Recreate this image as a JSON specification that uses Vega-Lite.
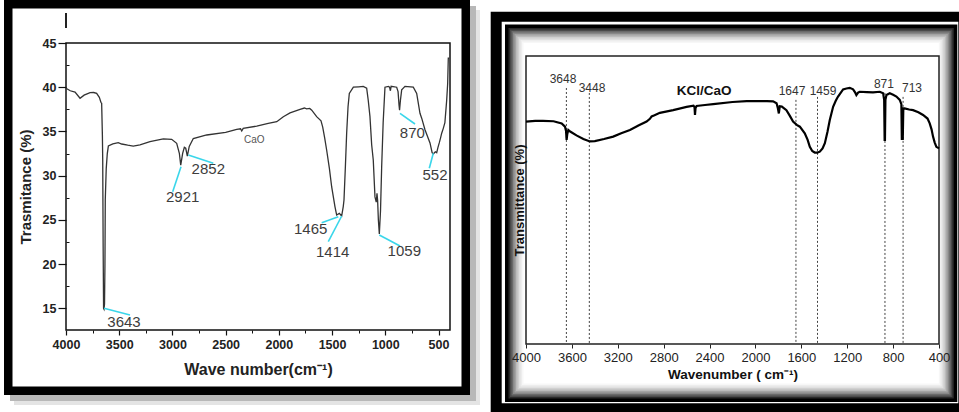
{
 "$schema": "https://vega.github.io/schema/vega-lite/v6.json",
 "background": "white",
 "padding": {"left": 4, "top": 0, "right": 0, "bottom": 0},
 "bounds": "flush",
 "spacing": 76,
 "config": {"view": {"stroke": null}, "font": "Liberation Sans", "axis": {"grid": false}},
 "hconcat": [
  {
   "width": 384, "height": 287,
   "resolve": {"axis": {"x": "independent", "y": "independent"}},
   "layer": [
    {"data": {"values": [{}]}, "mark": {"type": "rect", "color": "#e4e4e4"},
     "encoding": {"x": {"datum": 4488.6, "axis": null}, "x2": {"datum": 110.1}, "y": {"datum": 48.73, "axis": null}, "y2": {"datum": 4.07}}},
    {"data": {"values": [{}]}, "mark": {"type": "rect", "color": "#b8b8b8"},
     "encoding": {"x": {"datum": 4526.2, "axis": null}, "x2": {"datum": 147.7}, "y": {"datum": 49.18, "axis": null}, "y2": {"datum": 4.52}}},
    {"data": {"values": [{}]}, "mark": {"type": "rect", "color": "#000000"},
     "encoding": {"x": {"datum": 4582.5, "axis": null}, "x2": {"datum": 204.1}, "y": {"datum": 49.86, "axis": null}, "y2": {"datum": 5.2}}},
    {"data": {"values": [{}]}, "mark": {"type": "rect", "color": "#ffffff"},
     "encoding": {"x": {"datum": 4502.7, "axis": null}, "x2": {"datum": 284.0}, "y": {"datum": 48.9, "axis": null}, "y2": {"datum": 6.16}}},
    {"data": {"values": [{}]}, "mark": {"type": "rect", "filled": false, "color": "#111111", "strokeWidth": 1.5},
     "encoding": {"x": {"datum": 4000, "axis": null}, "x2": {"datum": 392}, "y": {"datum": 12.55, "axis": null}, "y2": {"datum": 45}}},
    {"data": {"values": [{}]}, "mark": {"type": "rule", "color": "#222222", "strokeWidth": 2},
     "encoding": {"x": {"datum": 4000, "axis": null}, "y": {"datum": 46.7, "axis": null}, "y2": {"datum": 48.39}}},
    {"data": {"values": [
      {"w":4000,"t":39.88},{"w":3960,"t":39.6},{"w":3915,"t":39.45},{"w":3868,"t":38.75},{"w":3830,"t":39.1},{"w":3774,"t":39.38},{"w":3740,"t":39.4},{"w":3712,"t":39.3},{"w":3687,"t":38.86},{"w":3672,"t":38.3},{"w":3665,"t":38.18},{"w":3658,"t":34.5},{"w":3655,"t":31.77},{"w":3651,"t":22},{"w":3647,"t":15.0},{"w":3643,"t":14.9},{"w":3638,"t":15.5},{"w":3634,"t":20},{"w":3631,"t":27.25},{"w":3622,"t":30.8},{"w":3612,"t":32.5},{"w":3602,"t":33.35},{"w":3560,"t":33.6},{"w":3509,"t":33.73},{"w":3477,"t":33.58},{"w":3420,"t":33.45},{"w":3368,"t":33.35},{"w":3305,"t":33.47},{"w":3211,"t":33.84},{"w":3086,"t":34.15},{"w":3007,"t":34.11},{"w":2960,"t":33.66},{"w":2935,"t":32.53},{"w":2922,"t":31.2},{"w":2904,"t":32.53},{"w":2888,"t":33.2},{"w":2875,"t":33.1},{"w":2860,"t":32.2},{"w":2842,"t":33.3},{"w":2804,"t":34.2},{"w":2678,"t":34.6},{"w":2500,"t":34.9},{"w":2396,"t":35.24},{"w":2360,"t":35.3},{"w":2349,"t":35.05},{"w":2335,"t":35.35},{"w":2208,"t":35.6},{"w":2100,"t":35.9},{"w":2020,"t":36.1},{"w":1958,"t":36.67},{"w":1895,"t":37.1},{"w":1801,"t":37.5},{"w":1760,"t":37.65},{"w":1739,"t":37.55},{"w":1710,"t":37.6},{"w":1691,"t":37.4},{"w":1645,"t":36.67},{"w":1604,"t":36.2},{"w":1588,"t":35.5},{"w":1570,"t":34.3},{"w":1551,"t":32.9},{"w":1525,"t":30.8},{"w":1504,"t":28.75},{"w":1473,"t":26.5},{"w":1457,"t":25.55},{"w":1432,"t":25.74},{"w":1410,"t":25.44},{"w":1395,"t":26.5},{"w":1388,"t":27.25},{"w":1375,"t":31},{"w":1363,"t":34.8},{"w":1350,"t":37.8},{"w":1338,"t":39.3},{"w":1300,"t":40.0},{"w":1250,"t":40.05},{"w":1207,"t":40.1},{"w":1175,"t":39.9},{"w":1160,"t":38.5},{"w":1144,"t":36.67},{"w":1128,"t":33.5},{"w":1113,"t":31.77},{"w":1097,"t":27.6},{"w":1085,"t":27.0},{"w":1078,"t":28.0},{"w":1072,"t":27.2},{"w":1065,"t":25},{"w":1056,"t":23.4},{"w":1045,"t":26},{"w":1034,"t":31.0},{"w":1020,"t":36},{"w":1003,"t":40.0},{"w":971,"t":40.1},{"w":960,"t":40.0},{"w":952,"t":39.6},{"w":945,"t":40.1},{"w":893,"t":40.0},{"w":880,"t":39.5},{"w":871,"t":38.0},{"w":866,"t":37.4},{"w":858,"t":38.5},{"w":846,"t":39.7},{"w":815,"t":40.1},{"w":737,"t":40.0},{"w":705,"t":39.3},{"w":674,"t":37.05},{"w":658,"t":36.5},{"w":627,"t":35.2},{"w":580,"t":33.7},{"w":560,"t":32.6},{"w":549,"t":32.45},{"w":530,"t":32.7},{"w":517,"t":32.6},{"w":505,"t":33.2},{"w":493,"t":33.7},{"w":480,"t":34.3},{"w":470,"t":34.8},{"w":455,"t":35.35},{"w":440,"t":36.0},{"w":430,"t":37.5},{"w":423,"t":38.55},{"w":414,"t":40.4},{"w":408,"t":43.3},{"w":400,"t":43.3}
     ]},
     "mark": {"type": "line", "color": "#333333", "strokeWidth": 1.3},
     "encoding": {
      "x": {"field": "w", "type": "quantitative", "scale": {"domain": [392, 4000], "reverse": true, "nice": false, "zero": false},
            "axis": {"zindex": 2, "values": [4000,3500,3000,2500,2000,1500,1000,500], "format": "d", "domain": false, "labelFont": "Liberation Sans", "labelFontWeight": "bold", "labelFontSize": 12.5, "labelColor": "#222222", "tickSize": 5, "tickColor": "#111111", "tickWidth": 1.2, "labelPadding": 3, "labelFlush": false, "labelOverlap": false, "title": "Wave number(cm⁻¹)", "titleFontSize": 16, "titleFontWeight": "bold", "titleColor": "#222222", "titlePadding": 11}},
      "y": {"field": "t", "type": "quantitative", "scale": {"domain": [12.55, 45], "nice": false, "zero": false},
            "axis": {"zindex": 2, "values": [15,20,25,30,35,40,45], "format": "d", "domain": false, "labelFont": "Liberation Sans", "labelFontWeight": "bold", "labelFontSize": 12.5, "labelColor": "#222222", "tickSize": 8, "tickColor": "#111111", "tickWidth": 1.2, "labelPadding": 2, "labelFlush": false, "labelOverlap": false, "title": "Trasmitance (%)", "titleFontSize": 15, "titleFontWeight": "bold", "titleColor": "#222222", "titlePadding": 9}}
     }},
    {"data": {"values": [
      {"w":3643,"t":15.0,"w2":3398.7,"t2":14.24},
      {"w":2919.5,"t":31.01,"w2":2997.5,"t2":28.19},
      {"w":2850.9,"t":32.34,"w2":2616,"t2":31.4},
      {"w":1441.5,"t":25.36,"w2":1597.5,"t2":24.68},
      {"w":1409.6,"t":25.44,"w2":1535.5,"t2":22.53},
      {"w":1056.3,"t":23.29,"w2":861.8,"t2":22.05},
      {"w":861.8,"t":37.05,"w2":720.8,"t2":35.84},
      {"w":548.9,"t":32.53,"w2":586.5,"t2":30.83}
     ]},
     "mark": {"type": "rule", "color": "#3ad6ea", "strokeWidth": 1.6},
     "encoding": {
      "x": {"field": "w", "type": "quantitative", "axis": {"zindex": 2, "orient": "bottom", "values": [3750,3250,2750,2250,1750,1250,750], "labels": false, "domain": false, "tickSize": 3, "tickColor": "#111111", "title": null}},
      "x2": {"field": "w2"},
      "y": {"field": "t", "type": "quantitative", "axis": {"zindex": 2, "orient": "left", "values": [17.5,22.5,27.5,32.5,37.5,42.5], "labels": false, "domain": false, "tickSize": -3, "tickColor": "#111111", "title": null}},
      "y2": {"field": "t2"}
     }},
    {"data": {"values": [
      {"w":3455,"t":13.49,"label":"3643"},
      {"w":2903.5,"t":27.55,"label":"2921"},
      {"w":2663,"t":30.75,"label":"2852"},
      {"w":1701,"t":24.0,"label":"1465"},
      {"w":1494,"t":21.33,"label":"1414"},
      {"w":821.4,"t":21.52,"label":"1059"},
      {"w":746.2,"t":34.86,"label":"870"},
      {"w":533,"t":30.07,"label":"552"}
     ]},
     "mark": {"type": "text", "fontSize": 15, "color": "#3d3d3d", "font": "Liberation Sans"},
     "encoding": {"x": {"field": "w", "type": "quantitative", "axis": null}, "y": {"field": "t", "type": "quantitative", "axis": null}, "text": {"field": "label"}}},
    {"data": {"values": [{"label": "CaO"}]},
     "mark": {"type": "text", "fontSize": 10, "color": "#555555", "font": "Liberation Sans"},
     "encoding": {"x": {"datum": 2231, "axis": null}, "y": {"datum": 34.03, "axis": null}, "text": {"field": "label"}}}
   ]
  },
  {
   "width": 413, "height": 301,
   "resolve": {"axis": {"x": "independent", "y": "independent"}},
   "layer": [
    {"data": {"values": [{}]}, "mark": {"type": "rect", "color": "#000000"},
     "encoding": {"x": {"datum": 4307.7, "axis": null}, "x2": {"datum": 225.7}, "y": {"datum": 110.4, "axis": null}, "y2": {"datum": -22.59}}},
    {"data": {"values": [{}]}, "mark": {"type": "rect", "color": "#ffffff"},
     "encoding": {"x": {"datum": 4211.8, "axis": null}, "x2": {"datum": 231.7}, "y": {"datum": 107.08, "axis": null}, "y2": {"datum": -19.7}}},
    {"data": {"values": [{}]}, "mark": {"type": "rect", "color": "#000000"},
     "encoding": {"x": {"datum": 4183.0, "axis": null}, "x2": {"datum": 240.5}, "y": {"datum": 106.15, "axis": null}, "y2": {"datum": -19.27}}},
    {"data": {"values": [{}]}, "mark": {"type": "rect", "color": "#2a2a2a"},
     "encoding": {"x": {"datum": 4152.5, "axis": null}, "x2": {"datum": 271.0}, "y": {"datum": 104.98, "axis": null}, "y2": {"datum": -18.11}}},
    {"data": {"values": [{}]}, "mark": {"type": "rect", "color": "#4a4a4a"},
     "encoding": {"x": {"datum": 4139.4, "axis": null}, "x2": {"datum": 284.0}, "y": {"datum": 104.48, "axis": null}, "y2": {"datum": -17.61}}},
    {"data": {"values": [{}]}, "mark": {"type": "rect", "color": "#6a6a6a"},
     "encoding": {"x": {"datum": 4126.4, "axis": null}, "x2": {"datum": 297.1}, "y": {"datum": 103.99, "axis": null}, "y2": {"datum": -17.11}}},
    {"data": {"values": [{}]}, "mark": {"type": "rect", "color": "#888888"},
     "encoding": {"x": {"datum": 4113.3, "axis": null}, "x2": {"datum": 310.2}, "y": {"datum": 103.49, "axis": null}, "y2": {"datum": -16.61}}},
    {"data": {"values": [{}]}, "mark": {"type": "rect", "color": "#a3a3a3"},
     "encoding": {"x": {"datum": 4100.2, "axis": null}, "x2": {"datum": 323.3}, "y": {"datum": 102.99, "axis": null}, "y2": {"datum": -16.11}}},
    {"data": {"values": [{}]}, "mark": {"type": "rect", "color": "#bbbbbb"},
     "encoding": {"x": {"datum": 4087.1, "axis": null}, "x2": {"datum": 336.4}, "y": {"datum": 102.49, "axis": null}, "y2": {"datum": -15.62}}},
    {"data": {"values": [{}]}, "mark": {"type": "rect", "color": "#d0d0d0"},
     "encoding": {"x": {"datum": 4074.1, "axis": null}, "x2": {"datum": 349.4}, "y": {"datum": 101.99, "axis": null}, "y2": {"datum": -15.12}}},
    {"data": {"values": [{}]}, "mark": {"type": "rect", "color": "#e0e0e0"},
     "encoding": {"x": {"datum": 4061.0, "axis": null}, "x2": {"datum": 362.5}, "y": {"datum": 101.5, "axis": null}, "y2": {"datum": -14.62}}},
    {"data": {"values": [{}]}, "mark": {"type": "rect", "color": "#ededed"},
     "encoding": {"x": {"datum": 4047.9, "axis": null}, "x2": {"datum": 375.6}, "y": {"datum": 101.0, "axis": null}, "y2": {"datum": -14.12}}},
    {"data": {"values": [{}]}, "mark": {"type": "rect", "color": "#f7f7f7"},
     "encoding": {"x": {"datum": 4034.8, "axis": null}, "x2": {"datum": 388.7}, "y": {"datum": 100.5, "axis": null}, "y2": {"datum": -13.62}}},
    {"data": {"values": [{}]}, "mark": {"type": "rect", "color": "#ffffff"},
     "encoding": {"x": {"datum": 4021.8, "axis": null}, "x2": {"datum": 401.7}, "y": {"datum": 100.0, "axis": null}, "y2": {"datum": -13.12}}},
    {"data": {"values": [{}]}, "mark": {"type": "rect", "filled": false, "color": "#222222", "strokeWidth": 1.5},
     "encoding": {"x": {"datum": 4000, "axis": null}, "x2": {"datum": 400}, "y": {"datum": 0, "axis": null}, "y2": {"datum": 95.68}}},
    {"data": {"values": [
      {"w":3648,"top":85.05},{"w":3448,"top":83.4},{"w":1647,"top":81.1},{"w":1459,"top":82.1},{"w":871,"top":83.4},{"w":713,"top":82.1}
     ]},
     "mark": {"type": "rule", "color": "#444444", "strokeWidth": 1, "strokeDash": [2, 2]},
     "encoding": {"x": {"field": "w", "type": "quantitative", "axis": null}, "y": {"field": "top", "type": "quantitative", "axis": null}, "y2": {"datum": 0}}},
    {"data": {"values": [
      {"w":4000,"t":73.9},{"w":3920,"t":74.1},{"w":3852,"t":74.1},{"w":3760,"t":74.0},{"w":3689,"t":73.3},{"w":3660,"t":72.2},{"w":3651,"t":70.8},{"w":3646,"t":67.8},{"w":3640,"t":69.8},{"w":3631,"t":71.1},{"w":3615,"t":70.6},{"w":3560,"t":69.3},{"w":3500,"t":68.1},{"w":3443,"t":67.3},{"w":3400,"t":67.4},{"w":3320,"t":68.1},{"w":3240,"t":68.9},{"w":3170,"t":70.0},{"w":3094,"t":71.1},{"w":3020,"t":72.6},{"w":2949,"t":73.9},{"w":2920,"t":74.8},{"w":2905,"t":75.6},{"w":2880,"t":76.0},{"w":2833,"t":76.8},{"w":2717,"t":77.7},{"w":2600,"t":78.8},{"w":2540,"t":79.2},{"w":2531,"t":78.7},{"w":2527,"t":76.1},{"w":2522,"t":78.4},{"w":2513,"t":79.1},{"w":2440,"t":79.4},{"w":2368,"t":79.7},{"w":2200,"t":80.4},{"w":2077,"t":80.7},{"w":1900,"t":80.7},{"w":1846,"t":80.6},{"w":1816,"t":80.0},{"w":1805,"t":78.4},{"w":1796,"t":76.6},{"w":1788,"t":79.0},{"w":1770,"t":78.9},{"w":1730,"t":77.7},{"w":1700,"t":75.8},{"w":1672,"t":73.9},{"w":1640,"t":72.8},{"w":1613,"t":72.2},{"w":1570,"t":70.0},{"w":1545,"t":67.8},{"w":1526,"t":65.5},{"w":1505,"t":64.1},{"w":1483,"t":63.6},{"w":1460,"t":63.6},{"w":1439,"t":63.9},{"w":1415,"t":65.0},{"w":1395,"t":66.7},{"w":1372,"t":70.5},{"w":1352,"t":74.4},{"w":1323,"t":78.8},{"w":1300,"t":80.8},{"w":1280,"t":82.2},{"w":1236,"t":84.6},{"w":1207,"t":84.9},{"w":1178,"t":85.1},{"w":1149,"t":84.6},{"w":1130,"t":83.5},{"w":1120,"t":82.7},{"w":1105,"t":83.5},{"w":1091,"t":83.8},{"w":1030,"t":83.7},{"w":975,"t":83.6},{"w":916,"t":83.8},{"w":887,"t":83.3},{"w":878,"t":81.1},{"w":874,"t":67.8},{"w":871,"t":67.8},{"w":867,"t":81.1},{"w":858,"t":82.7},{"w":829,"t":83.3},{"w":800,"t":82.8},{"w":771,"t":82.2},{"w":742,"t":81.1},{"w":728,"t":79.7},{"w":724,"t":67.8},{"w":719,"t":69},{"w":716,"t":67.8},{"w":711,"t":78.3},{"w":700,"t":78.3},{"w":660,"t":77.9},{"w":626,"t":77.7},{"w":580,"t":77.0},{"w":539,"t":76.1},{"w":500,"t":74.9},{"w":481,"t":73.3},{"w":465,"t":71.3},{"w":452,"t":68.9},{"w":438,"t":67.0},{"w":423,"t":65.5},{"w":400,"t":65.0}
     ]},
     "mark": {"type": "line", "color": "#000000", "strokeWidth": 2.2},
     "encoding": {
      "x": {"field": "w", "type": "quantitative", "scale": {"domain": [400, 4000], "reverse": true, "nice": false, "zero": false},
            "axis": {"zindex": 2, "values": [4000,3600,3200,2800,2400,2000,1600,1200,800,400], "format": "d", "domain": false, "labelFont": "Liberation Sans", "labelFontSize": 13, "labelColor": "#222222", "tickSize": 4, "tickColor": "#222222", "labelPadding": 3, "labelFlush": false, "labelOverlap": false, "title": "Wavenumber ( cm⁻¹)", "titleFontSize": 13.5, "titleFontWeight": "bold", "titleColor": "#111111", "titlePadding": 3}},
      "y": {"field": "t", "type": "quantitative", "scale": {"domain": [0, 100], "nice": false, "zero": false},
            "axis": {"zindex": 2, "title": "Transmittance (%)", "labels": false, "ticks": false, "domain": false, "titleFontSize": 13, "titleFontWeight": "bold", "titleColor": "#111111", "titlePadding": 0, "titleY": 157}}
     }},
    {"data": {"values": [
      {"w":3677.5,"t":88.0,"label":"3648"},
      {"w":3424.7,"t":85.05,"label":"3448"},
      {"w":1681.4,"t":84.05,"label":"1647"},
      {"w":1411,"t":84.05,"label":"1459"},
      {"w":880,"t":86.4,"label":"871"},
      {"w":635.3,"t":85.05,"label":"713"}
     ]},
     "mark": {"type": "text", "fontSize": 12, "color": "#333333", "font": "Liberation Sans"},
     "encoding": {"x": {"field": "w", "type": "quantitative", "axis": null}, "y": {"field": "t", "type": "quantitative", "axis": null}, "text": {"field": "label"}}},
    {"data": {"values": [{"label": "KCl/CaO"}]},
     "mark": {"type": "text", "fontSize": 13.5, "fontWeight": "bold", "color": "#111111", "font": "Liberation Sans"},
     "encoding": {"x": {"datum": 2448, "axis": null}, "y": {"datum": 84.05, "axis": null}, "text": {"field": "label"}}}
   ]
  }
 ]
}
